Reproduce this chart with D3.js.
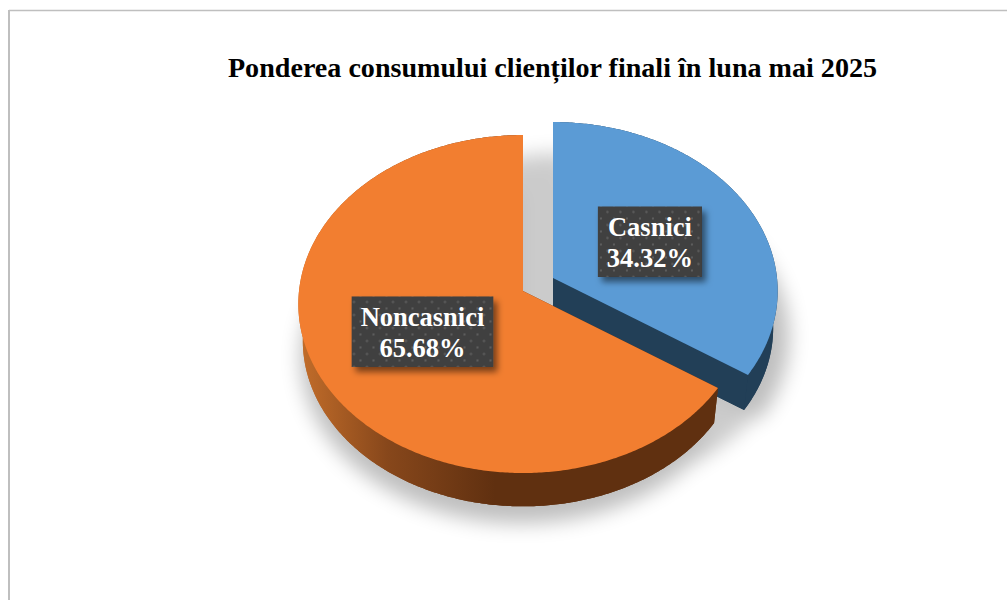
<!DOCTYPE html>
<html>
<head>
<meta charset="utf-8">
<script src="https://cdn.jsdelivr.net/npm/d3@7"></script>
<style>
  body { margin: 0; background: #fff; }
  svg { display: block; }
  text { font-family: "Liberation Serif", serif; font-weight: bold; }
</style>
</head>
<body>
<div id="chart"></div>
<script>
const WIDTH = 1007;
const HEIGHT = 600;

const TITLE = "Ponderea consumului clienților finali în luna mai 2025";
const categories = ["Casnici", "Noncasnici"];
const values = [34.32, 65.68];
const labels = ["34.32%", "65.68%"];

const topColors = ["#5b9bd5", "#f27e30"];
const sideColors = ["#223f57", "url(#orangeSide)"];
// the blue slice is pulled out of the pie
const offsets = [[30, -13], [0, 0]];

// pie geometry, fake 3d with a small perspective
const CX = 523, CY = 291, RX = 224, RY = 168, PERSP = 0.077;
const DEPTH = 37, LOWER = 0.98;

const svg = d3.select("#chart").append("svg")
    .attr("width", WIDTH)
    .attr("height", HEIGHT);

const defs = svg.append("defs");

defs.append("filter").attr("id", "blurShadow")
    .attr("filterUnits", "userSpaceOnUse")
    .attr("x", 0).attr("y", 0).attr("width", WIDTH).attr("height", HEIGHT)
    .append("feGaussianBlur").attr("stdDeviation", 10);

const boxShadow = defs.append("filter").attr("id", "boxShadow")
    .attr("x", "-20%").attr("y", "-20%").attr("width", "140%").attr("height", "150%");
boxShadow.append("feDropShadow")
    .attr("dx", 4).attr("dy", 5).attr("stdDeviation", 3)
    .attr("flood-color", "#000").attr("flood-opacity", 0.5);

const orangeSide = defs.append("linearGradient").attr("id", "orangeSide")
    .attr("gradientUnits", "userSpaceOnUse")
    .attr("x1", 300).attr("x2", 495).attr("y1", 0).attr("y2", 0);
orangeSide.append("stop").attr("offset", 0).attr("stop-color", "#c26d2a");
orangeSide.append("stop").attr("offset", 0.45).attr("stop-color", "#87471b");
orangeSide.append("stop").attr("offset", 1).attr("stop-color", "#603010");

const dots = defs.append("pattern").attr("id", "dots")
    .attr("patternUnits", "userSpaceOnUse")
    .attr("width", 13).attr("height", 13);
dots.append("rect").attr("width", 13).attr("height", 13).attr("fill", "#3f3f3f");
dots.append("circle").attr("cx", 3).attr("cy", 3).attr("r", 1.2).attr("fill", "#5e5e5e");
dots.append("circle").attr("cx", 9.5).attr("cy", 9.5).attr("r", 1.2).attr("fill", "#5e5e5e");

// frame (only top and left are in the picture)
svg.append("line").attr("x1", 9).attr("x2", WIDTH).attr("y1", 10.5).attr("y2", 10.5)
    .attr("stroke", "#bfbfbf").attr("stroke-width", 1.5);
svg.append("line").attr("x1", 9).attr("x2", 9).attr("y1", 10).attr("y2", HEIGHT)
    .attr("stroke", "#bfbfbf").attr("stroke-width", 2);

svg.append("text")
    .attr("x", 552.5)
    .attr("y", 77)
    .attr("text-anchor", "middle")
    .attr("font-size", 28.1)
    .attr("fill", "#000")
    .text(TITLE);

const slices = d3.pie().sort(null)(values);

// angle and radius fraction -> screen point
function project(angle, frac, offset, lower) {
    const u = Math.sin(angle) * frac;
    const v = -Math.cos(angle) * frac;
    const s = 1 / (1 - PERSP * v) * (lower ? LOWER : 1);
    return [
        CX + offset[0] + RX * u * s,
        CY + offset[1] + RY * v * s + (lower ? DEPTH : 0)
    ];
}

function arcPoints(slice, offset, lower) {
    const n = Math.ceil((slice.endAngle - slice.startAngle) / 0.01);
    return d3.range(n + 1).map(i => {
        const a = slice.startAngle + (slice.endAngle - slice.startAngle) * i / n;
        return project(a, 1, offset, lower);
    });
}

const line = d3.line();

function slicePath(slice, offset, lower) {
    return line([project(0, 0, offset, lower)].concat(arcPoints(slice, offset, lower))) + "Z";
}

function outerWall(slice, offset) {
    return line(arcPoints(slice, offset, false).concat(arcPoints(slice, offset, true).reverse())) + "Z";
}

function radialWall(angle, offset) {
    return line([
        project(0, 0, offset, false), project(angle, 1, offset, false),
        project(angle, 1, offset, true), project(0, 0, offset, true)
    ]) + "Z";
}

// ground shadow, blurred as one group so overlaps do not get darker
const shadow = svg.append("g").attr("fill", "#000").attr("opacity", 0.25)
    .attr("filter", "url(#blurShadow)");
shadow.append("path").attr("d", slicePath(slices[1], [-2, 17], true));
shadow.append("path").attr("d", slicePath(slices[0], [46, -4], true));
// this one fills the gap between the two slices, a bit lighter
shadow.append("path").attr("fill-opacity", 0.8)
    .attr("d", slicePath(slices[1], [45, 18], false));

const pieces = svg.selectAll(".piece")
    .data(slices)
    .enter()
    .append("g")
    .attr("class", "piece");

pieces.each(function(d, i) {
    const g = d3.select(this);
    const off = offsets[i];
    const side = g.append("g").attr("fill", sideColors[i]);
    side.append("path").attr("d", slicePath(d, off, true));
    side.append("path").attr("d", outerWall(d, off));
    side.append("path").attr("d", radialWall(d.startAngle, off));
    side.append("path").attr("d", radialWall(d.endAngle, off));
    g.append("path").attr("fill", topColors[i]).attr("d", slicePath(d, off, false));
});

// data labels on dark boxes, at the middle of the slice radius
const LINE_H = 31;
const labelDy = [2.5, 0];
slices.forEach((d, i) => {
    const mid = (d.startAngle + d.endAngle) / 2;
    const p = project(mid, 0.5, offsets[i], false);
    const g = svg.append("g").attr("transform", `translate(${p[0]},${p[1] + labelDy[i]})`);
    const box = g.append("rect").attr("fill", "url(#dots)").attr("filter", "url(#boxShadow)");
    const text = g.append("text").attr("text-anchor", "middle")
        .attr("font-size", 26.5).attr("fill", "#fff");
    text.append("tspan").attr("x", 0).attr("y", -5.5).text(categories[i]);
    text.append("tspan").attr("x", 0).attr("y", -5.5 + LINE_H).text(labels[i]);
    const w = text.node().getBBox().width + 18;
    box.attr("x", -w / 2).attr("y", -35).attr("width", w).attr("height", 70.5);
});
</script>
</body>
</html>
